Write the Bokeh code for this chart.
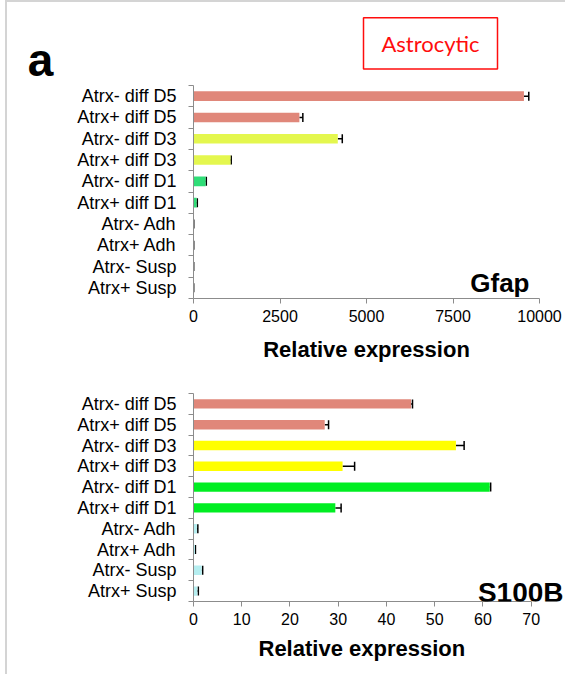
from bokeh.plotting import figure
from bokeh.models import (ColumnDataSource, Whisker, TeeHead, FixedTicker, Label,
                          Range1d, NumeralTickFormatter, Title)
from bokeh.core.properties import value
from bokeh.embed import file_html
from bokeh.resources import INLINE

# ---------------- data ----------------
categories = ["Atrx- diff D5", "Atrx+ diff D5", "Atrx- diff D3", "Atrx+ diff D3",
              "Atrx- diff D1", "Atrx+ diff D1", "Atrx- Adh", "Atrx+ Adh",
              "Atrx- Susp", "Atrx+ Susp"]

gfap_values = [9550, 3060, 4170, 1070, 350, 90, 5, 4, 3, 3]
gfap_errors = [140, 100, 130, 20, 20, 20, 2, 2, 2, 2]
gfap_colors = ["#E0877A", "#E0877A", "#E4F74E", "#E4F74E", "#2FDD77", "#2FDD77",
               "#B5EEF0", "#B5EEF0", "#B5EEF0", "#B5EEF0"]
gfap_ticks = [0, 2500, 5000, 7500, 10000]

s100b_values = [45.1, 27.2, 54.4, 30.9, 61.4, 29.4, 0.7, 0.3, 1.7, 0.8]
s100b_errors = [0.3, 0.8, 1.7, 2.5, 0.2, 1.2, 0.2, 0.1, 0.2, 0.2]
s100b_colors = ["#E0877A", "#E0877A", "#FFFF00", "#FFFF00", "#00EE22", "#00EE22",
                "#B5EEF0", "#B5EEF0", "#B5EEF0", "#B5EEF0"]
s100b_ticks = [0, 10, 20, 30, 40, 50, 60, 70]

FONT = "Liberation Sans"
GRAY = "#8c8c8c"
EDGE = "2px solid #d4d4d4"


def make_panel(values, errors, colors, xticks, xend, width, height, mb, axis_label):
    n = len(categories)
    ypos = [n - i - 0.5 for i in range(n)]
    upper = [v + e for v, e in zip(values, errors)]
    src = ColumnDataSource(dict(y=ypos, value=values, upper=upper, color=colors,
                                cat=categories))
    p = figure(width=width, height=height, output_backend="svg", toolbar_location=None,
               x_range=Range1d(xticks[0], xend), y_range=Range1d(0, n),
               min_border_left=mb[0], min_border_right=mb[1],
               min_border_top=mb[2], min_border_bottom=mb[3],
               styles={"margin-left": "5px", "border-left": EDGE})
    p.outline_line_color = None
    p.xgrid.grid_line_color = None
    p.ygrid.grid_line_color = None
    p.background_fill_color = "white"
    p.border_fill_color = "white"

    p.hbar(y="y", left=0, right="value", height=0.45, fill_color="color",
           line_color=None, source=src)
    p.add_layout(Whisker(base="y", lower="value", upper="upper", dimension="width",
                         source=src, line_color="black", line_width=1.5,
                         lower_head=None,
                         upper_head=TeeHead(size=9, line_color="black", line_width=1.5)))

    # x axis
    xa = p.xaxis[0]
    xa.ticker = FixedTicker(ticks=xticks)
    xa.bounds = (xticks[0], xticks[-1])
    xa.formatter = NumeralTickFormatter(format="0")
    xa.axis_line_color = GRAY
    xa.major_tick_line_color = GRAY
    xa.major_tick_out = 5
    xa.major_tick_in = 0
    xa.minor_tick_line_color = None
    xa.major_label_text_font = FONT
    xa.major_label_text_font_size = "16px"
    xa.major_label_text_color = "black"
    xa.major_label_standoff = 6
    if axis_label:
        xa.axis_label = "Relative expression"
        xa.axis_label_text_font = FONT
        xa.axis_label_text_font_style = "bold"
        xa.axis_label_text_font_size = "22px"
        xa.axis_label_text_color = "black"
        xa.axis_label_standoff = 12

    # y axis (category labels at centers, tick marks at boundaries)
    ya = p.yaxis[0]
    ya.ticker = FixedTicker(ticks=ypos, minor_ticks=list(range(n + 1)))
    ya.major_label_overrides = {y: c for y, c in zip(ypos, categories)}
    ya.axis_line_color = GRAY
    ya.major_tick_line_color = None
    ya.major_tick_out = 0
    ya.major_tick_in = 0
    ya.minor_tick_line_color = GRAY
    ya.minor_tick_out = 5
    ya.minor_tick_in = 0
    ya.major_label_text_font = FONT
    ya.major_label_text_font_size = "18px"
    ya.major_label_text_color = "black"
    ya.major_label_standoff = 12
    return p


# header with panel letter and cell-type box
header = figure(width=560, height=85, output_backend="svg", toolbar_location=None,
                x_range=Range1d(0, 560), y_range=Range1d(0, 83),
                min_border_left=0, min_border_right=0, min_border_top=0,
                min_border_bottom=0,
                styles={"margin-left": "5px", "border-left": EDGE, "border-top": EDGE})
header.axis.visible = False
header.grid.visible = False
header.outline_line_color = None
header.text(x=[33], y=[27], text=["a"], text_font=value(FONT), text_font_style="bold",
            text_font_size="46px", text_align="center", text_baseline="middle",
            text_color="black")
header.rect(x=[423], y=[43], width=[134], height=[50], fill_color=None,
            line_color="#FF0D0D", line_width=1.5)
header.text(x=[423], y=[43], text=["Astrocytic"], text_font=value("Lato"),
            text_font_size="22px", text_align="center", text_baseline="middle",
            text_color="#FF0D0D")

p1 = make_panel(gfap_values, gfap_errors, gfap_colors, gfap_ticks, 10000,
                560, 285, (186, 28, 0, 72), True)
p2 = make_panel(s100b_values, s100b_errors, s100b_colors, s100b_ticks, 77.53,
                560, 304, (186, 0, 23, 73), False)
p2.add_layout(Title(text="Relative expression", align="left", offset=65,
                    text_font=FONT, text_font_style="bold", text_font_size="22px",
                    text_color="black", standoff=13), "below")

p1.add_layout(Label(x=9711, y=0.75, text="Gfap", text_font=FONT, text_font_style="bold",
                    text_font_size="26px", text_align="right",
                    text_baseline="alphabetic", text_color="black"))
p2.add_layout(Label(x=76.7, y=0.43, text="S100B", text_font=FONT, text_font_style="bold",
                    text_font_size="28px", text_align="right",
                    text_baseline="alphabetic", text_color="black"))

open("out.html", "w").write(file_html([header, p1, p2], INLINE))
